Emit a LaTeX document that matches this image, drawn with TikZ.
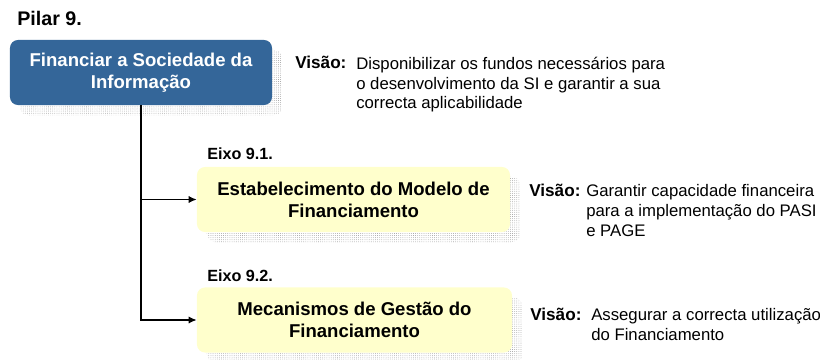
\documentclass[tikz,border=0pt]{standalone}
\usepackage{fontspec}
\setmainfont{Liberation Sans}
\usetikzlibrary{arrows.meta,shadows,patterns.meta}
\definecolor{pilarblue}{RGB}{52,102,153}
\definecolor{eixoyellow}{RGB}{255,255,204}
\tikzset{
  dotshadow/.style={general shadow={shadow xshift=0.25cm, shadow yshift=-0.25cm,
    pattern={Dots[distance=1.5pt, radius=0.28pt]}, pattern color=black!45}},
  pilarbox/.style={rounded corners=0.2cm, fill=pilarblue, text=white, align=center,
    font=\fontsize{13.2}{15.5}\selectfont\bfseries, minimum width=6.55cm, minimum height=1.625cm, dotshadow},
  eixobox/.style={rounded corners=0.2cm, fill=eixoyellow, align=center,
    font=\fontsize{13.2}{15.5}\selectfont\bfseries, minimum height=1.625cm, dotshadow},
  tag/.style={font=\fontsize{11.5}{13}\selectfont\bfseries, inner sep=0pt, anchor=base west},
  vis/.style={font=\fontsize{12.2}{14}\selectfont\bfseries, inner sep=0pt, anchor=base west},
  txt/.style={font=\fontsize{11.9}{14.18}\selectfont, inner sep=0pt, anchor=base west, align=left},
  arr/.style={line width=0.9pt, -{Latex[length=2mm, width=1.8mm]}},
}

\begin{document}
\begin{tikzpicture}[x=0.025cm, y=-0.025cm]
\useasboundingbox (0,0) rectangle (820,360);

% pilar (txt nodes sit on the baseline of their last line)
\node[tag, font=\fontsize{14}{16}\selectfont\bfseries] (pilartag) at (17,26) {Pilar 9.};
\node[pilarbox] (fin) at (141,72.5) {Financiar a Sociedade da\\Informação};
\node[vis] (vis0) at (295,69) {Visão:};
\node[txt] (txt0) at (356,109) {Disponibilizar os fundos necessários para\\o desenvolvimento da SI e garantir a sua\\correcta aplicabilidade};

% eixo 9.1
\node[tag] (tag1) at (207,159) {Eixo 9.1.};
\node[eixobox, minimum width=7.825cm] (est) at (353.5,199.5) {Estabelecimento do Modelo de\\Financiamento};
\node[vis] (vis1) at (529,196) {Visão:};
\node[txt] (txt1) at (586,236) {Garantir capacidade financeira\\para a implementação do PASI\\e PAGE};

% eixo 9.2
\node[tag] (tag2) at (207,281) {Eixo 9.2.};
\node[eixobox, minimum width=7.875cm] (mec) at (354.5,320) {Mecanismos de Gestão do\\Financiamento};
\node[vis] (vis2) at (530,320) {Visão:};
\node[txt] (txt2) at (591,340) {Assegurar a correcta utilização\\do Financiamento};

\draw[arr] (fin.south) |- (est.west);
\draw[arr] (fin.south) |- (mec.west);

\end{tikzpicture}
\end{document}
